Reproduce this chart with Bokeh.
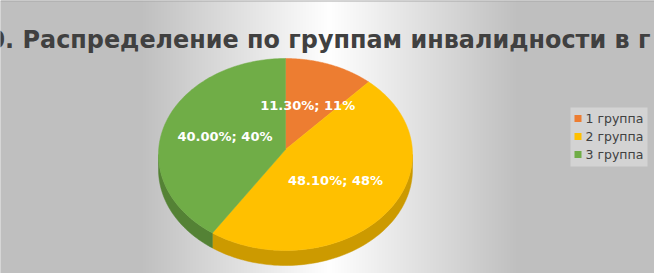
import numpy as np
from bokeh.plotting import figure
from bokeh.models import Range1d
from bokeh.core.properties import value
from bokeh.embed import file_html
from bokeh.resources import INLINE

# ---- data ----
title_text = "0. Распределение по группам инвалидности в г"
categories = ["1 группа", "2 группа", "3 группа"]
shares = [11.3, 48.1, 40.0]
top_colors = ["#ED7D31", "#FFC000", "#70AD47"]
side_colors = ["#B15D24", "#CC9A00", "#548235"]

W, H = 654, 273
p = figure(width=W, height=H, output_backend="svg", toolbar_location=None,
           x_range=Range1d(0, W), y_range=Range1d(H, 0), min_border=0,
           outline_line_color=None)
p.axis.visible = False
p.grid.visible = False
p.background_fill_color = "#BFBFBF"
p.border_fill_color = "#BFBFBF"

# ---- background gradient (horizontal, white in the middle) ----
xs = np.arange(W) + 0.5
d = np.abs(xs - 329) / 190.0
d = np.clip(d, 0, 1)
g = (255 - (255 - 191) * d).astype(np.uint32)
row = (np.uint32(255) << 24) | (g << 16) | (g << 8) | g
img = np.tile(row, (H, 1)).astype(np.uint32)
p.image_rgba(image=[img], x=0, y=0, dw=W, dh=H)
p.segment(x0=0, y0=0.5, x1=W, y1=0.5, line_color="#A8A8A8", line_width=1)

# ---- 3D pie ----
cx, cy, rx, ry, depth = 285, 154, 127, 96, 15
total = sum(shares)
bounds = np.concatenate([[0], np.cumsum(shares)]) / total * 360.0


def pt(a_deg, dy=0.0):
    a = np.radians(a_deg)
    return cx + rx * np.sin(a), cy - ry * np.cos(a) + dy


# sides (front half: 90..270 deg clockwise from top)
for i in range(len(shares)):
    a0, a1 = max(bounds[i], 90), min(bounds[i + 1], 270)
    if a1 <= a0:
        continue
    angs = np.linspace(a0, a1, 80)
    tx, ty = pt(angs)
    bx, by = pt(angs[::-1], depth)
    p.patch(np.concatenate([tx, bx]), np.concatenate([ty, by]),
            fill_color=side_colors[i], line_color=side_colors[i], line_width=0.5)

# top faces
for i in range(len(shares)):
    angs = np.linspace(bounds[i], bounds[i + 1], 120)
    tx, ty = pt(angs)
    p.patch(np.concatenate([[cx], tx]), np.concatenate([[cy - 5], ty]),
            fill_color=top_colors[i], line_color=top_colors[i], line_width=0.5)

# data labels
lx, ly, lt = [], [], []
for i, v in enumerate(shares):
    mid = np.radians((bounds[i] + bounds[i + 1]) / 2)
    r = 0.5
    lx.append(cx + r * rx * np.sin(mid))
    ly.append(cy - r * ry * np.cos(mid) - 4)
    lt.append(f"{v:.2f}%; {round(v)}%")
p.text(x=lx, y=ly, text=lt, text_align="center", text_baseline="middle",
       text_color="white", text_font=value("DejaVu Sans"),
       text_font_style="bold", text_font_size="13px")

# ---- title ----
p.text(x=[-12], y=[39], text=[title_text], text_align="left",
       text_baseline="alphabetic", text_color="#404040",
       text_font=value("DejaVu Sans"), text_font_style="bold",
       text_font_size="23.9px")

# ---- legend ----
p.quad(left=[570], right=[647], top=[107], bottom=[166],
       fill_color="#D3D3D3", line_color=None)
leg_y = [118, 136, 154]
p.rect(x=[577.5] * 3, y=leg_y, width=7, height=7, fill_color=top_colors,
       line_color=None)
p.text(x=[585] * 3, y=leg_y, text=categories, text_baseline="middle",
       text_color="#404040", text_font=value("DejaVu Sans"),
       text_font_size="12.5px")

open("out.html", "w").write(file_html(p, INLINE))
